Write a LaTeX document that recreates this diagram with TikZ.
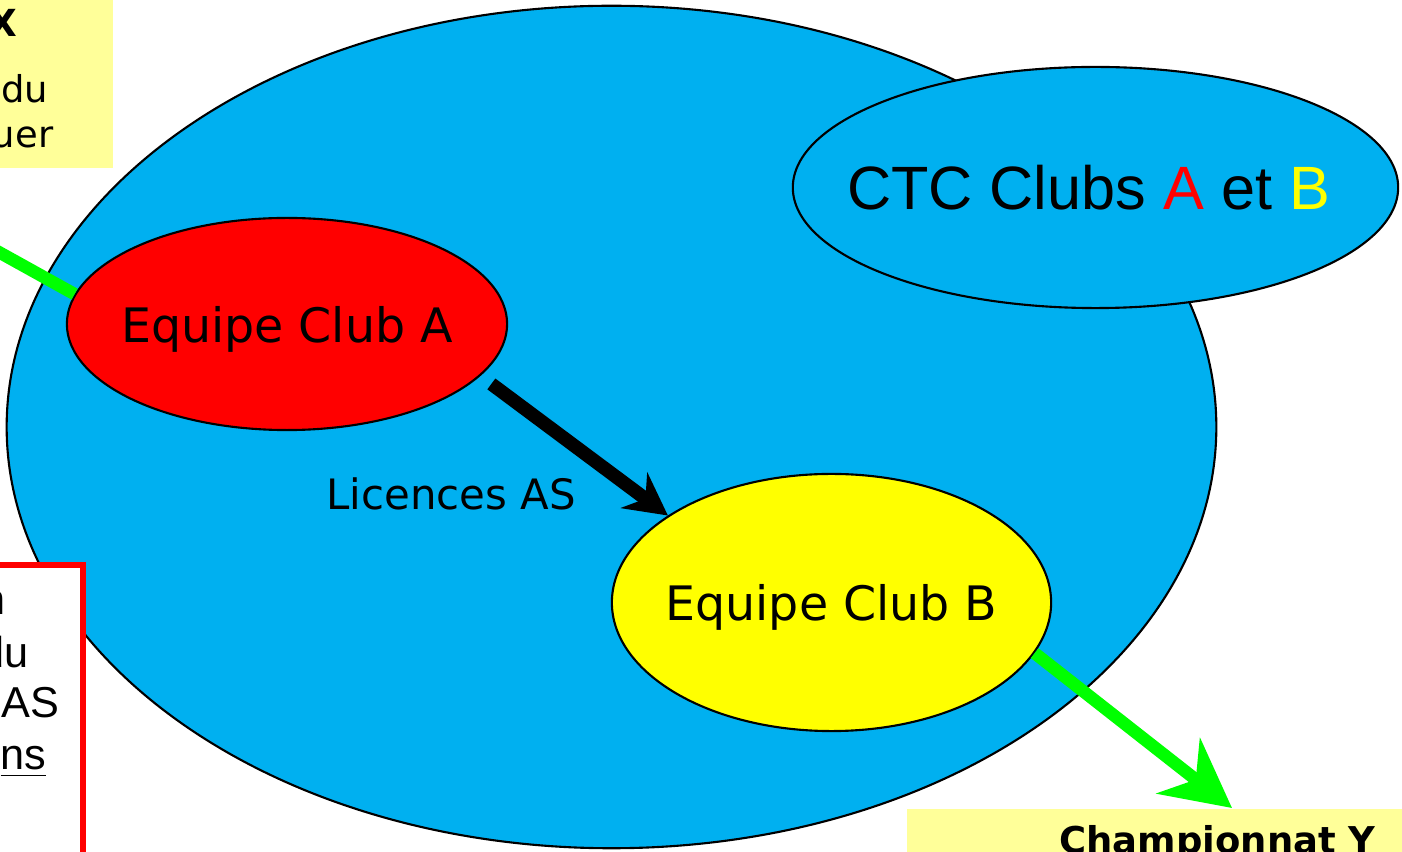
\documentclass[tikz,border=0pt]{standalone}
\usepackage{fontspec}
\setmainfont{DejaVu Sans}
\newfontfamily\arialfont{Liberation Sans}
\usetikzlibrary{shapes.geometric,arrows.meta}
\definecolor{ctcblue}{HTML}{00B0F0}
\definecolor{flashgreen}{HTML}{00FF00}
\definecolor{paleyellow}{HTML}{FFFF99}
\definecolor{clubred}{HTML}{FF0000}
\definecolor{clubyellow}{HTML}{FFFF00}

\begin{document}
\begin{tikzpicture}[x=0.01cm, y=-0.01cm,
    oval/.style={ellipse, draw=black, line width=0.6pt, inner sep=0pt},
    tag/.style={inner sep=0pt, anchor=base east},
    licarrow/.style={line width=0.135cm, -{Stealth[length=0.42cm, width=0.44cm, inset=0.14cm]}},
    champarrow/.style={flashgreen, line width=0.125cm, -{Stealth[length=0.68cm, width=0.70cm, inset=0.22cm]}}]
    \useasboundingbox (0,0) rectangle (1402,852);
    \clip (0,0) rectangle (1402,852);
    \node[oval, fill=ctcblue, minimum width=12.09cm, minimum height=8.42cm] (ctc) at (611.5,427) {};
    \node[oval, fill=ctcblue, minimum width=6.05cm, minimum height=2.41cm,
        label={[inner sep=0pt, text depth=0pt, xshift=-0.07cm, font=\arialfont\fontsize{17.4}{20}\selectfont]center:CTC Clubs \textcolor{clubred}{A} et \textcolor{clubyellow}{B}}]
        (ctcAB) at (1095.5,187.5) {};
    \node[oval, fill=clubred, minimum width=4.4cm, minimum height=2.12cm,
        label={[inner sep=0pt, text depth=0pt, font=\fontsize{13.5}{16}\selectfont]center:Equipe Club A}]
        (eqA) at (287,324) {};
    \node[oval, fill=clubyellow, minimum width=4.39cm, minimum height=2.57cm,
        label={[inner sep=0pt, text depth=0pt, font=\fontsize{13.5}{16}\selectfont]center:Equipe Club B}]
        (eqB) at (831.5,602.5) {};
    \draw[licarrow, shorten <=0.135cm] (eqA.-15) -- (eqB.152);
    \node[inner sep=0pt, text depth=0pt, font=\fontsize{11.9}{14}\selectfont] (licAS) at (451,494) {Licences AS};
    % championnats
    \fill[paleyellow] (-20,-20) rectangle (113,168);
    \node[tag, font=\fontsize{10.6}{12}\selectfont\bfseries] (champX) at (18,37) {X};
    \node[tag, font=\fontsize{10.5}{12}\selectfont] (xdu) at (49,103) {du};
    \node[tag, font=\fontsize{10.5}{12}\selectfont] (xuer) at (54,148) {uer};
    \coordinate (offX) at (-50,225);
    \draw[flashgreen, line width=0.125cm] (eqA.172) -- (offX);
    \node[fill=paleyellow, anchor=north, minimum width=6.21cm, inner ysep=0.17cm,
        font=\fontsize{10.5}{12}\selectfont\bfseries] (champY) at (1217.5,808) {Championnat Y};
    \draw[champarrow] (eqB.-14.5) -- ([xshift=0.145cm]champY.north);
    % cadre rouge
    \draw[clubred, fill=white, line width=0.06cm] (-20,565) rectangle (83,900);
    \node[tag, font=\arialfont\fontsize{12.3}{14}\selectfont] (rn) at (6,615) {n};
    \node[tag, font=\arialfont\fontsize{12.3}{14}\selectfont] (rdu) at (29,668) {du};
    \node[tag, font=\arialfont\fontsize{12.3}{14}\selectfont] (ras) at (60,718) {AS};
    \node[tag, font=\arialfont\fontsize{12.3}{14}\selectfont] (rns) at (47,770) {\underline{ns}};
\end{tikzpicture}
\end{document}
